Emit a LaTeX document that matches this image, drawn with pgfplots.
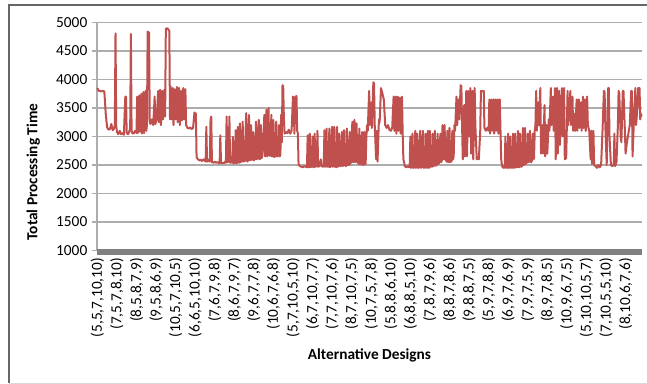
\documentclass[border=0pt]{standalone}
\usepackage{pgfplots}
\pgfplotsset{compat=1.18}
\usepackage{fontspec}
\setmainfont{Carlito}

\definecolor{series}{HTML}{C0504D}
\definecolor{gridgray}{HTML}{ADADAD}
\definecolor{framegray}{HTML}{666666}
\definecolor{axisgray}{HTML}{808080}

\begin{document}
\begin{tikzpicture}
\useasboundingbox (0,0) rectangle (485.25pt,288pt);
% chart area frame
\draw[framegray, line width=1.5pt] (6.75pt,0.6pt) -- (6.75pt,284.25pt) -- (486pt,284.25pt);
\draw[gray!30, line width=0.6pt] (6.75pt,0.4pt) -- (486pt,0.4pt);
\begin{axis}[
  at={(72.75pt,100.125pt)}, anchor=south west,
  scale only axis, width=408.75pt, height=171pt,
  xmin=-0.5, xmax=779.5, ymin=1000, ymax=5000,
  clip=false,
  axis lines=left,
  x axis line style={-, draw=axisgray, line width=0.8pt},
  y axis line style={-, draw=gridgray, line width=0.9pt},
  ytick={1000,1500,...,5000},
  xtick={0,28,...,756},
  tick align=outside,
  major tick length=3.75pt,
  xtick style={draw=axisgray, line width=0.6pt},
  ytick style={draw=gridgray, line width=0.9pt},
  ymajorgrids,
  major grid style={draw=gridgray, line width=0.9pt},
  /pgf/number format/1000 sep={},
  /pgf/number format/assume math mode=true,
  ticklabel style={font=\fontsize{11.5}{13}\selectfont, text=black},
  xticklabel style={rotate=90, anchor=east, xshift=1.5pt},
  yticklabel style={anchor=east},
  xticklabels={{(5,5,7,10,10)},{(7,5,7,8,10)},{(8,5,8,7,9)},{(9,5,8,6,9)},{(10,5,7,10,5)},{(6,6,5,10,10)},{(7,6,7,9,8)},{(8,6,7,9,7)},{(9,6,7,7,8)},{(10,6,7,6,8)},{(5,7,10,5,10)},{(6,7,10,7,7)},{(7,7,10,7,6)},{(8,7,10,7,5)},{(10,7,5,7,8)},{(5,8,8,6,10)},{(6,8,8,5,10)},{(7,8,7,9,6)},{(8,8,7,8,6)},{(9,8,8,7,5)},{(5,9,7,8,8)},{(6,9,7,6,9)},{(7,9,7,5,9)},{(8,9,7,8,5)},{(10,9,6,7,5)},{(5,10,10,5,7)},{(7,10,5,5,10)},{(8,10,6,7,6)}},
  xlabel={Alternative Designs},
  ylabel={Total Processing Time},
  every axis x label/.style={at={(axis description cs:0.5,-0.458)}, anchor=center,
    font=\fontsize{11.5}{13}\selectfont\bfseries, text=black},
  every axis y label/.style={at={(axis description cs:-0.117,0.344)}, anchor=center, rotate=90,
    font=\fontsize{11.5}{13}\selectfont\bfseries, text=black},
]
\addplot[series, line width=1.5pt, line join=round, mark=none] coordinates {
(0,3850)(2,3800)(4,3800)(6,3790)(8,3800)(10,3790)(12,3400)(14,3160)(16,3120)(18,3130)(20,3220)(22,3110)(24,3140)(25,3200)(26,4810)(27,3200)(28,3080)(30,3040)(32,3100)(34,3040)(36,3060)(38,3030)(40,3700)(41,3700)(42,3060)(44,3040)(46,3100)(47,3150)(48,4800)(49,3100)(50,3060)(52,3050)(54,3100)(56,3060)(57,3700)(58,3060)(60,3720)(61,3080)(63,3750)(64,3050)(66,3780)(67,3060)(69,3800)(70,3100)(71,3200)(72,4840)(73,4830)(74,4820)(75,3250)(76,3220)(78,3300)(80,3200)(82,3700)(83,3220)(85,3300)(87,3800)(88,3250)(90,3820)(91,3200)(93,3800)(94,3300)(96,3820)(97,3350)(98,4890)(100,4900)(102,4870)(103,4850)(104,3300)(105,3880)(106,3300)(108,3850)(109,3200)(111,3830)(112,3300)(114,3870)(115,3250)(117,3850)(118,3200)(120,3800)(121,3280)(123,3850)(124,3300)(126,3830)(127,3200)(129,3150)(131,3140)(133,3160)(135,3130)(137,3150)(139,3420)(141,3400)
(142,2640)(144,2600)(146,2580)(148,2590)(150,2570)(152,2600)(154,2570)(155,2560)(156,3170)(157,2560)(159,2570)(160,2600)(161,2560)(162,3300)(163,3350)(164,2550)(166,2540)(168,2560)(170,2540)(172,2550)(174,2530)(175,2540)(176,3020)(177,2530)(179,2540)(181,2530)(183,2560)(184,2540)(185,3350)(186,2550)(188,2560)(189,3350)(190,2540)(192,2550)(193,2540)(194,2990)(195,2530)(197,2540)(198,3110)(199,2530)(200,2540)(201,3170)(202,2550)(203,2540)(204,3230)(205,2550)(206,2560)(207,2900)(208,3260)(209,2560)(211,2570)(212,3000)(213,3410)(214,2580)(215,2560)(216,2900)(217,3380)(218,2580)(219,2600)(220,3200)(221,2590)(222,2600)(223,3080)(224,2580)(226,2620)(227,3260)(228,2600)(229,2620)(230,2950)(231,3290)(232,2600)(233,2610)(234,3200)(235,2620)(236,2650)(237,2900)(238,3100)(239,3380)(240,2650)(241,2700)(242,3470)(243,2650)(244,2680)(245,3500)(246,2700)(247,2660)(248,2700)(249,3380)(250,2650)(251,2660)(252,3290)(253,2640)(254,2650)(255,2680)(256,3260)(257,2650)(258,2660)(259,2700)(260,3200)(261,2650)(262,2680)(263,3380)(264,2900)(265,3900)(266,3880)(267,3300)
(268,3050)(270,3080)(272,3060)(274,3120)(276,3050)(278,3100)(280,3700)(281,3690)(282,3050)(284,3700)(285,3710)(286,3100)(287,3050)(288,2500)(290,2480)(292,2470)(294,2460)(296,2480)(298,2470)(300,2460)(301,3020)(302,2460)(303,2470)(304,3050)(305,2460)(306,2470)(307,2480)(308,3000)(309,2460)(310,2470)(311,3050)(312,2470)(314,2480)(315,3100)(316,2470)(318,2480)(320,2600)(321,2480)(323,2470)(324,2480)(325,3110)(326,2470)(327,2480)(328,3140)(329,2470)(330,2480)(331,2470)(332,3140)(333,2460)(334,2480)(335,2900)(336,3170)(337,2470)(338,2480)(339,3170)(340,2470)(341,2480)(342,2460)(343,3170)(344,2470)(345,2480)(346,3050)(347,2490)(348,2480)(349,2800)(350,3080)(351,2480)(352,2500)(353,3110)(354,2490)(355,2500)(356,2480)(357,3140)(358,2500)(359,2510)(360,2500)(361,3080)(362,2520)(363,2550)(364,3000)(365,3260)(366,2550)(367,2560)(368,3290)(369,2550)(370,2570)(371,3230)(372,2550)(373,2540)(374,2520)(375,3140)(376,2510)(377,2520)(378,2900)(379,3080)(380,2500)(381,2520)(382,3080)(383,2510)(384,2520)(385,3000)(386,3200)(387,3100)
(389,3800)(390,3200)(392,3600)(393,3150)(395,3950)(396,3930)(397,3200)(399,2600)(400,3100)(401,2560)(403,3300)(404,3250)(406,3850)(407,3800)(409,3700)(410,3650)(412,3200)(414,3150)(416,3200)(418,3120)(420,3100)(422,3150)(424,3700)(425,3100)(427,3700)(428,3050)(430,3700)(431,3100)(433,3680)(434,3050)(436,3700)(437,3050)
(438,2600)(439,2550)(440,2480)(442,2460)(444,2480)(446,2460)(447,2470)(448,3000)(449,2450)(450,2460)(451,3050)(452,2450)(454,2460)(455,3100)(456,2450)(457,2460)(458,3050)(459,2450)(461,2460)(462,3100)(463,2450)(464,2460)(465,2900)(466,3100)(467,2450)(468,2460)(469,2450)(470,3050)(471,2460)(472,2450)(473,3100)(474,2460)(475,2450)(476,3100)(477,2470)(478,2480)(479,2470)(480,3050)(481,2480)(482,2490)(483,3100)(484,2500)(485,2490)(486,2510)(487,3050)(488,2520)(489,2530)(490,2800)(491,3050)(492,2550)(493,2580)(494,3200)(495,2600)(496,2620)(497,3200)(498,2600)(499,2580)(500,2560)(501,3100)(502,2550)(503,2560)(504,3150)(505,2550)(506,2570)(507,2560)(508,3100)(509,2600)(510,2650)(511,3200)(512,3100)
(514,3700)(515,3200)(517,3650)(518,3300)(520,3900)(521,3880)(522,3200)(523,2600)(525,3550)(526,2650)(528,3800)(529,2650)(531,3800)(532,3000)(534,3850)(535,2700)(537,3800)(538,2600)(540,3850)(541,3200)(543,2600)(544,2620)(546,2600)(548,3100)(549,3800)(551,3790)(553,3800)(554,3150)(556,3100)(558,3150)(560,3100)(561,3650)(562,3050)(564,3650)(565,3100)(567,3650)(568,3050)(570,3650)(571,3100)(573,3650)(574,3050)(576,3650)(577,3100)
(578,2600)(579,2500)(580,2460)(582,2450)(583,2460)(584,3000)(585,2450)(586,2460)(587,2450)(588,3050)(589,2450)(590,2460)(591,3000)(592,2450)(593,2460)(594,2450)(595,3050)(596,2460)(597,2450)(598,3050)(599,2460)(600,2470)(601,2460)(602,3100)(603,2470)(604,2460)(605,3050)(606,2480)(607,2470)(608,2490)(609,3150)(610,2500)(611,2510)(612,3150)(613,2520)(614,2530)(615,2550)(616,3050)(617,2550)(618,2560)(619,3100)(620,2560)(621,2550)(622,2580)(623,3050)(624,2600)(625,2620)(626,3100)(627,3200)
(628,3800)(629,3100)(631,3600)(632,3200)(634,3850)(635,2700)(637,3200)(638,2700)(640,3550)(641,2650)(643,3200)(644,2700)(646,3300)(647,3100)(649,3850)(650,3200)(652,3700)(653,3100)(655,3850)(656,2600)(658,3850)(659,2700)(661,3800)(662,2850)(665,3850)(666,3000)(668,3850)(669,2600)(671,2620)(673,3800)(674,3200)(677,3800)(678,3200)(680,3700)(681,3100)(683,3400)(684,3100)(686,3650)(687,3100)(689,3650)(690,3150)(692,3600)(693,3100)(695,3700)(696,3150)(698,3650)(699,3100)(701,3700)(702,3200)(704,3100)
(706,2600)(707,3100)(708,2520)(710,3100)(711,2500)(713,2480)(715,2450)(717,2500)(719,2460)(721,2500)(723,3100)(725,3800)(726,3780)(727,3200)(729,2500)(731,3850)(732,3850)(733,3000)(735,2500)(737,2480)(739,2500)(740,3050)(741,2480)(743,2550)(745,3200)(746,3800)(747,3750)(749,3000)(750,2900)(752,3800)(753,3800)(755,3100)(756,2700)(758,2900)(760,3050)(762,3200)(764,3800)(765,3800)(766,2650)(768,3300)(770,3850)(771,3200)(773,3500)(774,3850)(776,3850)(777,3300)(778,3400)(779,3350)
};
% one tick per design merges into a solid gray band along the category axis
\draw[axisgray, line width=4pt] ([yshift=-1.2pt]rel axis cs:0,0) -- ([yshift=-1.2pt]rel axis cs:1,0);
\end{axis}
\end{tikzpicture}
\end{document}
